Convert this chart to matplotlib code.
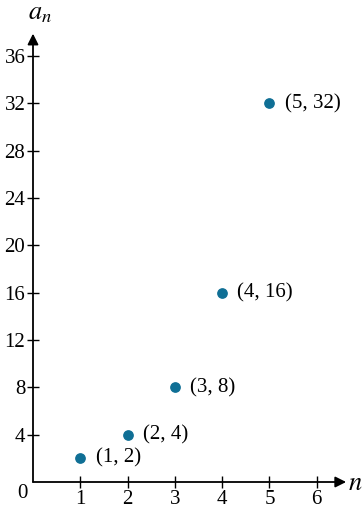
import matplotlib
matplotlib.use("Agg")
from matplotlib import pyplot as plt

n = [1, 2, 3, 4, 5]
a_n = [2, 4, 8, 16, 32]
etiquetas = ["(1, 2)", "(2, 4)", "(3, 8)", "(4, 16)", "(5, 32)"]
xticks = [1, 2, 3, 4, 5, 6]
yticks = [4, 8, 12, 16, 20, 24, 28, 32, 36]

plt.rcParams["font.family"] = ["Liberation Serif", "DejaVu Serif"]
plt.rcParams["mathtext.fontset"] = "stix"
color_punto = "#0f6f95"

W, H = 363, 517
fig = plt.figure(figsize=(W / 100, H / 100), dpi=100)
# origen en pixel (33, 482); 47.3 px por unidad en x, 11.83 px por unidad en y
x0, y0 = 33, 482
px_x, px_y = 47.3, 11.83
xmax, ymax = (W - x0) / px_x, y0 / px_y
ax = fig.add_axes([x0 / W, (H - y0) / H, (W - x0) / W, y0 / H])
ax.set_xlim(0, xmax)
ax.set_ylim(0, ymax)
for s in ax.spines.values():
    s.set_visible(False)

# ejes con flechas
ax.annotate("", xy=(6.62, 0), xytext=(0, 0),
            arrowprops=dict(arrowstyle="-|>", color="black", lw=1.3,
                            mutation_scale=16, shrinkA=0, shrinkB=0))
ax.annotate("", xy=(0, 37.9), xytext=(0, 0),
            arrowprops=dict(arrowstyle="-|>", color="black", lw=1.3,
                            mutation_scale=16, shrinkA=0, shrinkB=0))

ax.set_xticks(xticks)
ax.set_yticks(yticks)
ax.tick_params(direction="inout", length=9, width=1, labelsize=15, pad=1)
ax.text(-0.12, -0.2, "0", ha="right", va="top", fontsize=15)

ax.text(0.15, 38.6, "$a_n$", fontsize=19, ha="center", va="bottom")
ax.text(6.67, -0.2, "$n$", fontsize=19, ha="left", va="center")

ax.scatter(n, a_n, s=45, color=color_punto, zorder=3, clip_on=False)
for xi, yi, t in zip(n, a_n, etiquetas):
    ax.annotate(t, (xi, yi), xytext=(11, 0), textcoords="offset points",
                fontsize=15, va="center", ha="left")

fig.savefig("out.png", dpi=100)
